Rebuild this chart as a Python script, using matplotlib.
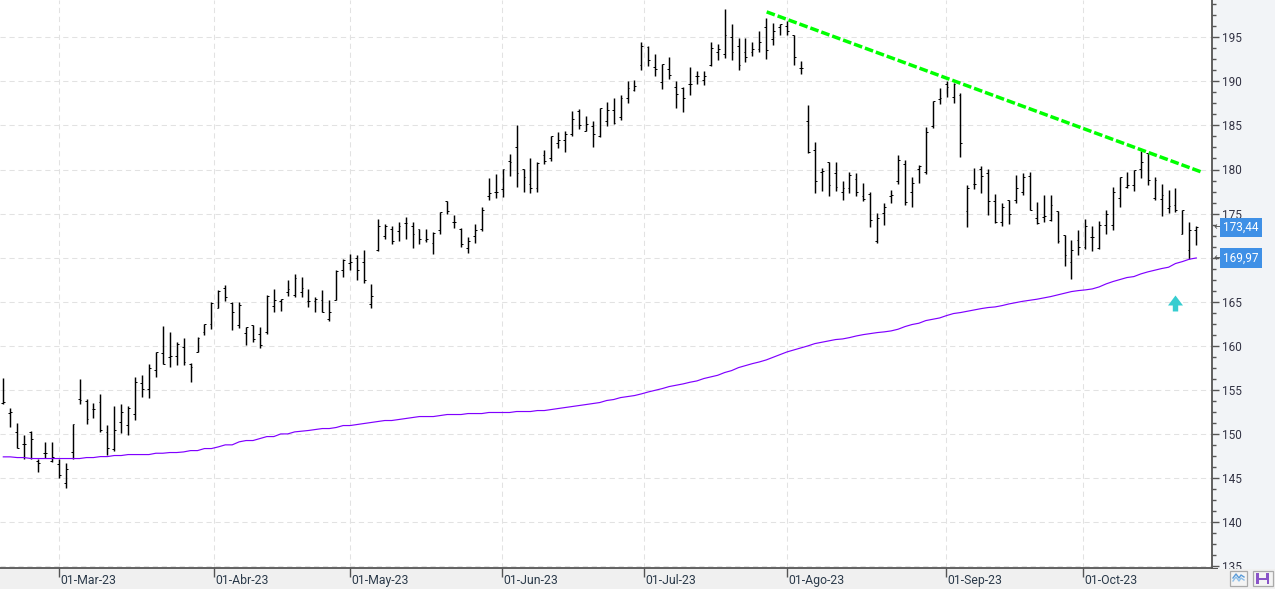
import matplotlib
matplotlib.use('Agg')
import matplotlib.pyplot as plt
from matplotlib.patches import Rectangle
from matplotlib.path import Path
from matplotlib.ticker import MultipleLocator
from matplotlib.transforms import ScaledTranslation

plt.rcParams['font.family'] = ['Roboto', 'DejaVu Sans']

# daily bars
highs = [156.4,153.0,151.3,149.95,150.4,147.15,149.15,149.15,147.15,146.75,
         151.1,156.3,154.0,153.5,154.6,151.0,153.15,153.45,153.2,156.5,
         156.75,157.9,159.35,162.2,161.6,160.4,160.85,158.1,161.05,162.5,
         164.95,166.3,166.85,165.0,165.0,162.1,162.4,162.1,165.8,166.4,
         165.35,167.45,168.2,167.85,166.5,165.6,166.3,165.25,168.55,169.9,
         170.45,170.35,170.9,167.05,174.35,173.85,173.55,174.1,174.65,174.1,
         173.2,173.2,172.95,175.2,176.45,174.8,173.4,172.4,173.85,175.8,
         179.0,179.45,180.1,181.8,185.0,180.1,181.25,180.9,182.25,183.85,
         184.2,184.4,186.6,186.9,186.1,185.45,187.0,187.6,188.1,188.4,
         190.0,190.1,194.5,193.95,193.05,192.0,192.7,190.0,189.3,191.65,
         191.2,191.2,194.4,194.25,198.25,196.45,194.95,194.95,194.5,195.65,
         197.2,196.65,196.55,196.8,195.2,192.35,187.35,183.15,180.2,180.9,
         180.8,178.65,179.75,179.55,178.5,177.5,175.1,176.15,177.7,181.6,
         181.1,179.2,180.55,184.85,187.8,189.2,190.0,189.85,188.7,178.2,
         180.2,180.35,180.1,177.25,176.15,176.5,179.4,179.65,179.75,176.35,
         177.1,177.1,175.25,172.63,172.05,173.1,174.35,173.65,174.2,175.45,
         178.05,179.1,179.75,179.9,182.15,181.9,179.1,178.4,177.7,177.85,
         175.45,174.0,173.65]
lows = [153.4,150.8,148.4,147.15,147.15,145.7,147.25,146.85,145.0,143.85,
        147.2,153.4,151.1,151.8,150.25,147.65,148.1,150.15,149.9,151.6,
        154.2,154.1,156.5,157.9,157.6,157.85,157.85,155.9,159.3,161.25,
        161.9,164.25,165.1,161.8,162.05,160.1,160.45,159.8,161.35,163.85,
        163.95,165.65,165.6,165.6,164.45,163.85,163.8,162.85,165.15,167.8,
        168.65,167.5,167.15,164.3,170.8,172.15,171.55,171.9,172.15,171.05,
        171.5,171.8,170.45,172.65,175.0,173.4,171.25,170.55,171.7,173.05,
        176.55,176.8,176.9,179.3,178.0,177.45,177.35,177.45,180.65,181.0,
        182.45,182.0,183.8,184.6,184.4,182.55,183.7,184.95,185.15,185.6,
        187.55,188.9,191.3,191.75,190.6,189.15,190.3,187.0,186.55,188.45,
        189.7,189.6,191.75,192.4,192.6,192.45,191.3,192.2,192.9,193.35,
        192.55,194.15,195.25,195.25,191.85,190.85,181.9,177.35,177.55,177.0,
        177.55,176.55,177.35,177.0,176.45,173.5,171.7,173.7,176.2,178.35,
        176.0,175.75,178.5,179.5,184.7,187.45,188.2,187.5,181.4,173.5,
        177.75,177.35,174.85,173.95,173.6,173.85,176.15,177.15,175.4,173.85,
        174.05,174.15,171.7,169.07,167.6,170.3,171.0,170.8,171.0,172.7,
        173.15,175.75,177.9,177.55,179.05,178.2,176.5,174.75,175.1,175.2,
        172.65,169.85,171.45]
opens = [153.5,152.4,150.2,148.85,150.2,147.0,147.85,146.95,146.6,144.4,
         148.0,154.0,153.7,152.85,153.6,150.2,148.3,151.4,151.0,152.3,
         155.85,155.1,157.3,159.25,158.75,158.9,159.9,157.9,159.35,161.6,
         162.45,164.35,166.6,164.9,162.4,161.45,162.4,161.3,161.6,164.55,
         165.1,166.1,165.8,166.15,165.05,165.05,165.25,163.1,165.15,168.55,
         169.35,170.0,169.55,164.8,170.9,172.5,173.2,173.05,173.9,173.65,
         173.2,172.0,171.7,173.1,176.45,174.0,173.2,171.05,172.5,173.25,
         177.0,177.4,177.75,181.0,182.6,180.05,178.4,177.95,181.6,181.25,
         182.95,183.3,184.0,186.6,184.4,184.95,183.75,185.55,186.8,186.0,
         188.05,189.05,191.8,193.85,191.65,189.95,191.45,189.3,189.2,189.65,
         190.55,190.2,191.9,193.35,193.15,195.05,194.05,193.35,193.35,193.7,
         196.1,194.75,196.1,196.3,195.2,191.55,185.45,182.25,179.75,180.9,
         179.55,177.4,177.95,178.95,177.05,177.25,171.9,175.1,177.05,178.65,
         180.65,177.4,180.1,179.75,184.95,188.0,189.65,188.25,188.4,175.25,
         178.4,180.1,179.55,176.45,174.0,176.5,176.5,177.5,179.3,174.55,
         174.65,174.3,175.25,172.63,169.55,172.05,171.25,172.3,171.15,173.75,
         173.75,176.8,178.05,178.2,180.1,181.9,176.8,176.65,175.6,176.0,
         172.7,170.9,173.1]
closes = [153.65,152.5,148.4,148.9,149.4,146.75,147.9,147.45,145.4,146.0,
          151.1,153.9,151.7,152.85,150.5,148.45,150.5,152.55,153.0,155.95,
          155.1,157.55,159.35,157.9,158.85,160.25,158.2,157.65,160.9,162.45,
          164.85,166.2,165.6,163.8,164.6,162.1,160.8,160.15,165.7,165.2,
          165.3,166.5,167.65,166.6,165.05,165.35,163.8,163.8,168.5,169.7,
          169.55,168.55,167.5,165.7,173.65,173.55,171.85,173.55,173.9,172.65,
          172.15,172.1,172.85,175.2,175.25,174.1,171.6,171.95,173.1,175.45,
          177.3,177.4,180.05,180.9,179.65,179.2,177.95,180.75,181.0,183.85,
          183.4,184.0,185.75,185.0,185.2,184.0,187.0,186.7,185.3,188.05,
          189.2,189.5,193.95,192.45,191.35,192.0,190.75,188.6,188.15,189.75,
          190.65,190.55,193.8,193.7,195.2,193.35,191.9,192.7,193.7,194.5,
          193.5,195.65,196.45,195.65,192.8,191.55,182.0,178.75,179.85,178.2,
          178.05,177.85,179.4,177.5,176.6,174.3,174.45,175.8,177.1,181.1,
          176.35,178.5,180.35,184.3,187.8,188.05,189.4,189.75,182.95,177.85,
          178.3,179.3,176.45,174.0,175.8,175.0,177.95,179.1,175.45,173.9,
          174.75,176.0,171.9,170.25,170.9,171.25,173.65,172.4,173.75,175.0,
          177.4,179.1,178.2,179.9,180.8,178.85,178.85,177.15,175.9,175.45,
          175.45,173.1,173.44]
sma = [147.42,147.42,147.34,147.34,147.23,147.23,147.23,147.23,147.23,147.23,
       147.23,147.23,147.34,147.34,147.45,147.45,147.57,147.57,147.68,147.68,
       147.68,147.68,147.83,147.83,147.91,147.91,147.98,148.13,148.13,148.36,
       148.36,148.55,148.78,148.78,149.12,149.27,149.27,149.49,149.72,149.72,
       150.02,150.02,150.25,150.33,150.41,150.52,150.63,150.63,150.75,150.97,
       150.97,151.09,151.2,151.31,151.43,151.54,151.54,151.65,151.77,151.88,
       151.99,151.99,151.99,152.11,152.22,152.22,152.22,152.33,152.33,152.33,
       152.45,152.45,152.45,152.45,152.56,152.56,152.56,152.67,152.67,152.79,
       152.9,153.01,153.13,153.24,153.35,153.47,153.58,153.81,153.92,154.14,
       154.25,154.37,154.56,154.78,154.97,155.16,155.39,155.54,155.69,155.88,
       156.03,156.3,156.49,156.67,156.98,157.2,157.54,157.77,157.99,158.18,
       158.41,158.71,159.02,159.32,159.55,159.77,160.0,160.26,160.41,160.57,
       160.72,160.79,160.94,161.13,161.28,161.4,161.51,161.59,161.7,161.89,
       162.19,162.42,162.57,162.87,163.02,163.17,163.44,163.67,163.78,163.93,
       164.08,164.23,164.35,164.42,164.57,164.76,164.91,165.06,165.18,165.29,
       165.44,165.59,165.78,165.97,166.16,166.27,166.35,166.46,166.69,167.03,
       167.3,167.52,167.75,167.86,168.16,168.39,168.58,168.77,168.92,169.34,
       169.56,169.83,169.97]

date_pos = [8.07, 30.42, 50.03, 71.94, 92.42, 113.03, 135.96, 155.7]
date_labels = ['01-Mar-23', '01-Abr-23', '01-May-23', '01-Jun-23',
               '01-Jul-23', '01-Ago-23', '01-Sep-23', '01-Oct-23']
price_ticks = [135, 140, 145, 150, 155, 160, 165, 170, 175, 180, 185, 190, 195]
# 170 sits behind the last value flag in the original
price_labels = ['135', '140', '145', '150', '155', '160', '165', '', '175', '180', '185', '190', '195']
trend_x = [110.06, 172.93]
trend_y = [197.87, 179.66]
signal_x = 169
signal_y = 164.84
last_values = [173.44, 169.97]
last_labels = ['173,44', '169,97']

W, H = 1275, 589
bar_px = 6.936
AXIS = '#555555'
GRID = '#e2e2e2'

fig = plt.figure(figsize=(W / 100, H / 100), dpi=100, facecolor='#f2f4f7')
ax = fig.add_axes([0, 21 / H, 1212 / W, 568 / H], facecolor='white')
ax_bot = fig.add_axes([0, 0, 1212 / W, 21 / H], facecolor='#f0f0f0', sharex=ax)

xs = list(range(len(closes)))

# grid
ax.set_axisbelow(True)
ax.set_xticks(date_pos)
ax.set_yticks(price_ticks)
ax.set_yticklabels(price_labels)
ax.grid(True, which='major', color=GRID, lw=0.75, dashes=(5, 3.6))

# OHLC bars
ax.vlines(xs, lows, highs, color='black', lw=1.05, zorder=3)
ax.hlines(opens, [x - 0.26 for x in xs], xs, color='black', lw=0.72, zorder=3)
ax.hlines(closes, xs, [x + 0.26 for x in xs], color='black', lw=0.72, zorder=3)

# moving average and trend line
ax.plot(xs, sma, color='#8000ff', lw=0.85, zorder=4)
ax.plot(trend_x, trend_y, color='#00ff00', lw=2.5, dashes=(2.5, 0.85),
        dash_capstyle='butt', zorder=5)

# signal arrow
arrow = Path([(0, 8), (7.5, -2), (2.7, -2), (2.7, -8), (-2.7, -8), (-2.7, -2), (-7.5, -2), (0, 8)], closed=True)
ax.plot([signal_x], [signal_y], marker=arrow, ms=11.5, color='#36cdd0', mew=0, zorder=5)

ax.set_xlim(-3.3 / bar_px, (1212 - 3.3) / bar_px)
ax.set_ylim(195 - (568 - 37.2) / 8.82, 195 + 37.2 / 8.82)

# price axis on the right
for s in ['left', 'top', 'bottom']:
    ax.spines[s].set_visible(False)
ax.spines['right'].set_color(AXIS)
ax.spines['right'].set_linewidth(1.3)
ax.yaxis.tick_right()
ax.yaxis.set_minor_locator(MultipleLocator(1.25))
ax.tick_params(axis='y', which='major', length=5, width=1, color=AXIS,
               pad=2.4, labelsize=8.5, labelcolor='#333344')
ax.tick_params(axis='y', which='minor', length=3, width=1, color=AXIS)
ax.tick_params(axis='x', which='both', bottom=False, labelbottom=False)

# last value flags
ytrans = ax.get_yaxis_transform()
for v, lab in zip(last_values, last_labels):
    ax.text(1 + 11.5 / 1212, v, lab, transform=ytrans, color='white', fontsize=8.5,
            va='center', ha='left', zorder=7, clip_on=False,
            bbox=dict(boxstyle='square,pad=0.28', fc='#3f90e6', ec='none'))
    ax.text(1 + 1 / 1212, v, '\u2190', transform=ytrans, color='#555555', fontsize=8,
            family=['DejaVu Sans'], va='center', ha='left', zorder=6, clip_on=False)

# date axis at the bottom
for s in ['left', 'right', 'bottom']:
    ax_bot.spines[s].set_visible(False)
ax_bot.spines['top'].set_color(AXIS)
ax_bot.spines['top'].set_linewidth(1.3)
ax_bot.set_yticks([])
ax_bot.set_xticks(date_pos)
ax_bot.set_xticklabels(date_labels)
ax_bot.tick_params(axis='x', top=True, bottom=False, direction='in', length=6.5, width=1,
                   color=AXIS, labelbottom=True, pad=-11, labelsize=8.8, labelcolor='#2b3a4a')
shift = ScaledTranslation(0.9 / 72, 0, fig.dpi_scale_trans)
for t in ax_bot.get_xticklabels():
    t.set_ha('left')
    t.set_transform(t.get_transform() + shift)


# corner of the window, in pixels from the top left
def px_rect(x0, y0, x1, y1, **kw):
    r = Rectangle((x0 / W, 1 - y1 / H), (x1 - x0) / W, (y1 - y0) / H,
                  transform=fig.transFigure, **kw)
    fig.add_artist(r)
    return r


px_rect(1212, 568.5, 1275, 589, fc='#f0f0f0', ec='none', zorder=5)
px_rect(1211, 568, 1218, 569.3, fc=AXIS, ec='none', zorder=5)
px_rect(1229.5, 570.5, 1246.5, 585.5, fc='#f4f4f4', ec='#aaaaaa', lw=0.9, zorder=6)
px_rect(1252.5, 570.5, 1272.5, 585.5, fc='#f4f4f4', ec='#aaaaaa', lw=0.9, zorder=6)
for off, col in [(0, '#5a9bd8'), (3, '#8fc0ea')]:
    px = [1233, 1236, 1239, 1241, 1244]
    py = [578 + off, 574 + off, 578 + off, 575 + off, 577 + off]
    fig.add_artist(plt.Line2D([p / W for p in px], [1 - p / H for p in py],
                              color=col, lw=1, zorder=7))
px_rect(1256, 573, 1269, 584, fc='#8a55c8', ec='none', zorder=7)
px_rect(1259, 573, 1266, 577.5, fc='#f4f4f4', ec='none', zorder=8)
px_rect(1258.5, 579.5, 1266.5, 584, fc='#f4f4f4', ec='none', zorder=8)

fig.savefig('out.png', dpi=100, facecolor=fig.get_facecolor())
